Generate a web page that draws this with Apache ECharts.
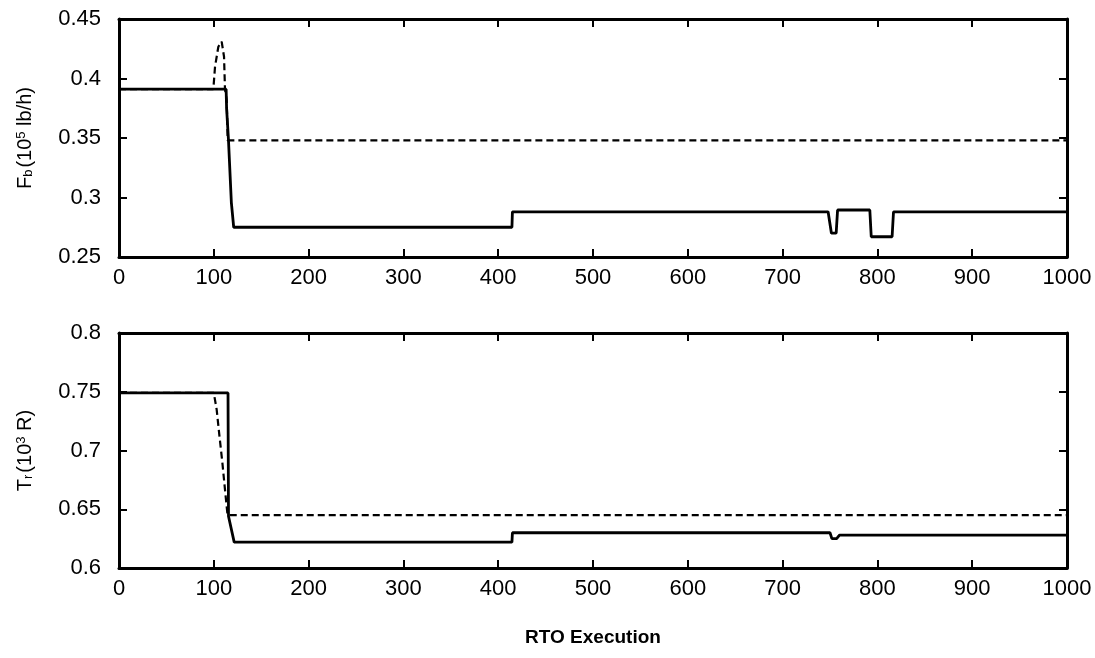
<!DOCTYPE html>
<html>
<head>
<meta charset="utf-8">
<script src="https://cdn.jsdelivr.net/npm/echarts@6/dist/echarts.min.js"></script>
<style>
html,body{margin:0;padding:0;background:#fff;}
#chart{width:1095px;height:658px;}
</style>
</head>
<body>
<div id="chart"></div>
<script>
// ---- data ----
const fbSolidX = [0, 113, 113.5, 115.5, 118.5, 120.5, 121, 414.5, 415, 748, 751.5, 756.5, 758, 792, 793.5, 815.5, 817, 1000];
const fbSolidY = [0.391, 0.391, 0.375, 0.348, 0.296, 0.296, 0.275, 0.275, 0.288, 0.288, 0.270, 0.270, 0.2895, 0.2895, 0.267, 0.267, 0.288, 0.288];
const fbDashX = [0, 99.5, 101.3, 104.8, 108.3, 110.8, 111.8, 113.6, 114.7, 1000];
const fbDashY = [0.391, 0.391, 0.410, 0.4267, 0.431, 0.4183, 0.391, 0.382, 0.348, 0.348];
const trSolidX = [0, 115, 115.5, 121.5, 414.5, 415, 750, 752, 757, 760, 1000];
const trSolidY = [0.749, 0.749, 0.644, 0.622, 0.622, 0.630, 0.630, 0.625, 0.625, 0.628, 0.628];
const trDashX = [0, 100, 103, 106, 109, 112, 114.5, 1000];
const trDashY = [0.749, 0.749, 0.735, 0.712, 0.690, 0.665, 0.645, 0.645];

const pairs = (xs, ys) => xs.map((x, i) => [x, ys[i]]);
const FONT = 'Liberation Sans, Arial, sans-serif';

const chart = echarts.init(document.getElementById('chart'), null, {renderer: 'canvas'});

function xAx(grid, pos, labels, name) {
  return {
    type: 'value', gridIndex: grid, position: pos, min: 0, max: 1000, interval: 100,
    axisLine: {show: true, onZero: false, lineStyle: {color: '#000', width: 3}},
    axisTick: {show: true, inside: true, length: 8, lineStyle: {color: '#000', width: 2}},
    axisLabel: {show: labels, color: '#000', fontFamily: FONT, fontSize: 22, margin: 10,
                formatter: v => String(v)},
    splitLine: {show: false},
    name: name || '', nameLocation: 'middle', nameGap: 60,
    nameTextStyle: {color: '#000', fontFamily: FONT, fontSize: 19, fontWeight: 'bold'}
  };
}
function yAx(grid, pos, labels, min, max, name, rich) {
  return {
    type: 'value', gridIndex: grid, position: pos, min: min, max: max, interval: 0.05,
    axisLine: {show: true, onZero: false, lineStyle: {color: '#000', width: 3}},
    axisTick: {show: true, inside: true, length: 8, lineStyle: {color: '#000', width: 2}},
    axisLabel: {show: labels, color: '#000', fontFamily: FONT, fontSize: 22, margin: 18},
    splitLine: {show: false},
    name: name || '', nameLocation: 'middle', nameGap: 84, nameRotate: 90,
    nameTextStyle: {color: '#000', fontFamily: FONT, fontSize: 20, rich: rich}
  };
}
const rich = {
  n: {fontFamily: FONT, fontSize: 20, color: '#000', verticalAlign: 'middle'},
  sub: {fontFamily: FONT, fontSize: 13, color: '#000', verticalAlign: 'bottom', padding: [0,2,0,0]},
  sup: {fontFamily: FONT, fontSize: 13, color: '#000', verticalAlign: 'top'}
};

const option = {
  backgroundColor: '#fff',
  animation: false,
  grid: [
    {left: 119, top: 19, width: 948, height: 238},
    {left: 119, top: 333, width: 948, height: 235}
  ],
  xAxis: [
    xAx(0, 'bottom', true),
    xAx(0, 'top', false),
    xAx(1, 'bottom', true, 'RTO Execution'),
    xAx(1, 'top', false)
  ],
  yAxis: [
    yAx(0, 'left', true, 0.25, 0.45, '{n|F}{sub|b}{n|(10}{sup|5}{n| lb/h)}', rich),
    yAx(0, 'right', false, 0.25, 0.45),
    yAx(1, 'left', true, 0.6, 0.8, '{n|T}{sub|r}{n|(10}{sup|3}{n| R)}', rich),
    yAx(1, 'right', false, 0.6, 0.8)
  ],
  series: [
    {type: 'line', xAxisIndex: 0, yAxisIndex: 0, data: pairs(fbDashX, fbDashY), showSymbol: false,
     lineStyle: {color: '#000', width: 2.2, type: [7, 4]}},
    {type: 'line', xAxisIndex: 0, yAxisIndex: 0, data: pairs(fbSolidX, fbSolidY), showSymbol: false,
     lineStyle: {color: '#000', width: 2.8}},
    {type: 'line', xAxisIndex: 2, yAxisIndex: 2, data: pairs(trDashX, trDashY), showSymbol: false,
     lineStyle: {color: '#000', width: 2.2, type: [7, 4]}},
    {type: 'line', xAxisIndex: 2, yAxisIndex: 2, data: pairs(trSolidX, trSolidY), showSymbol: false,
     lineStyle: {color: '#000', width: 2.8}}
  ]
};
chart.setOption(option);
</script>
</body>
</html>
